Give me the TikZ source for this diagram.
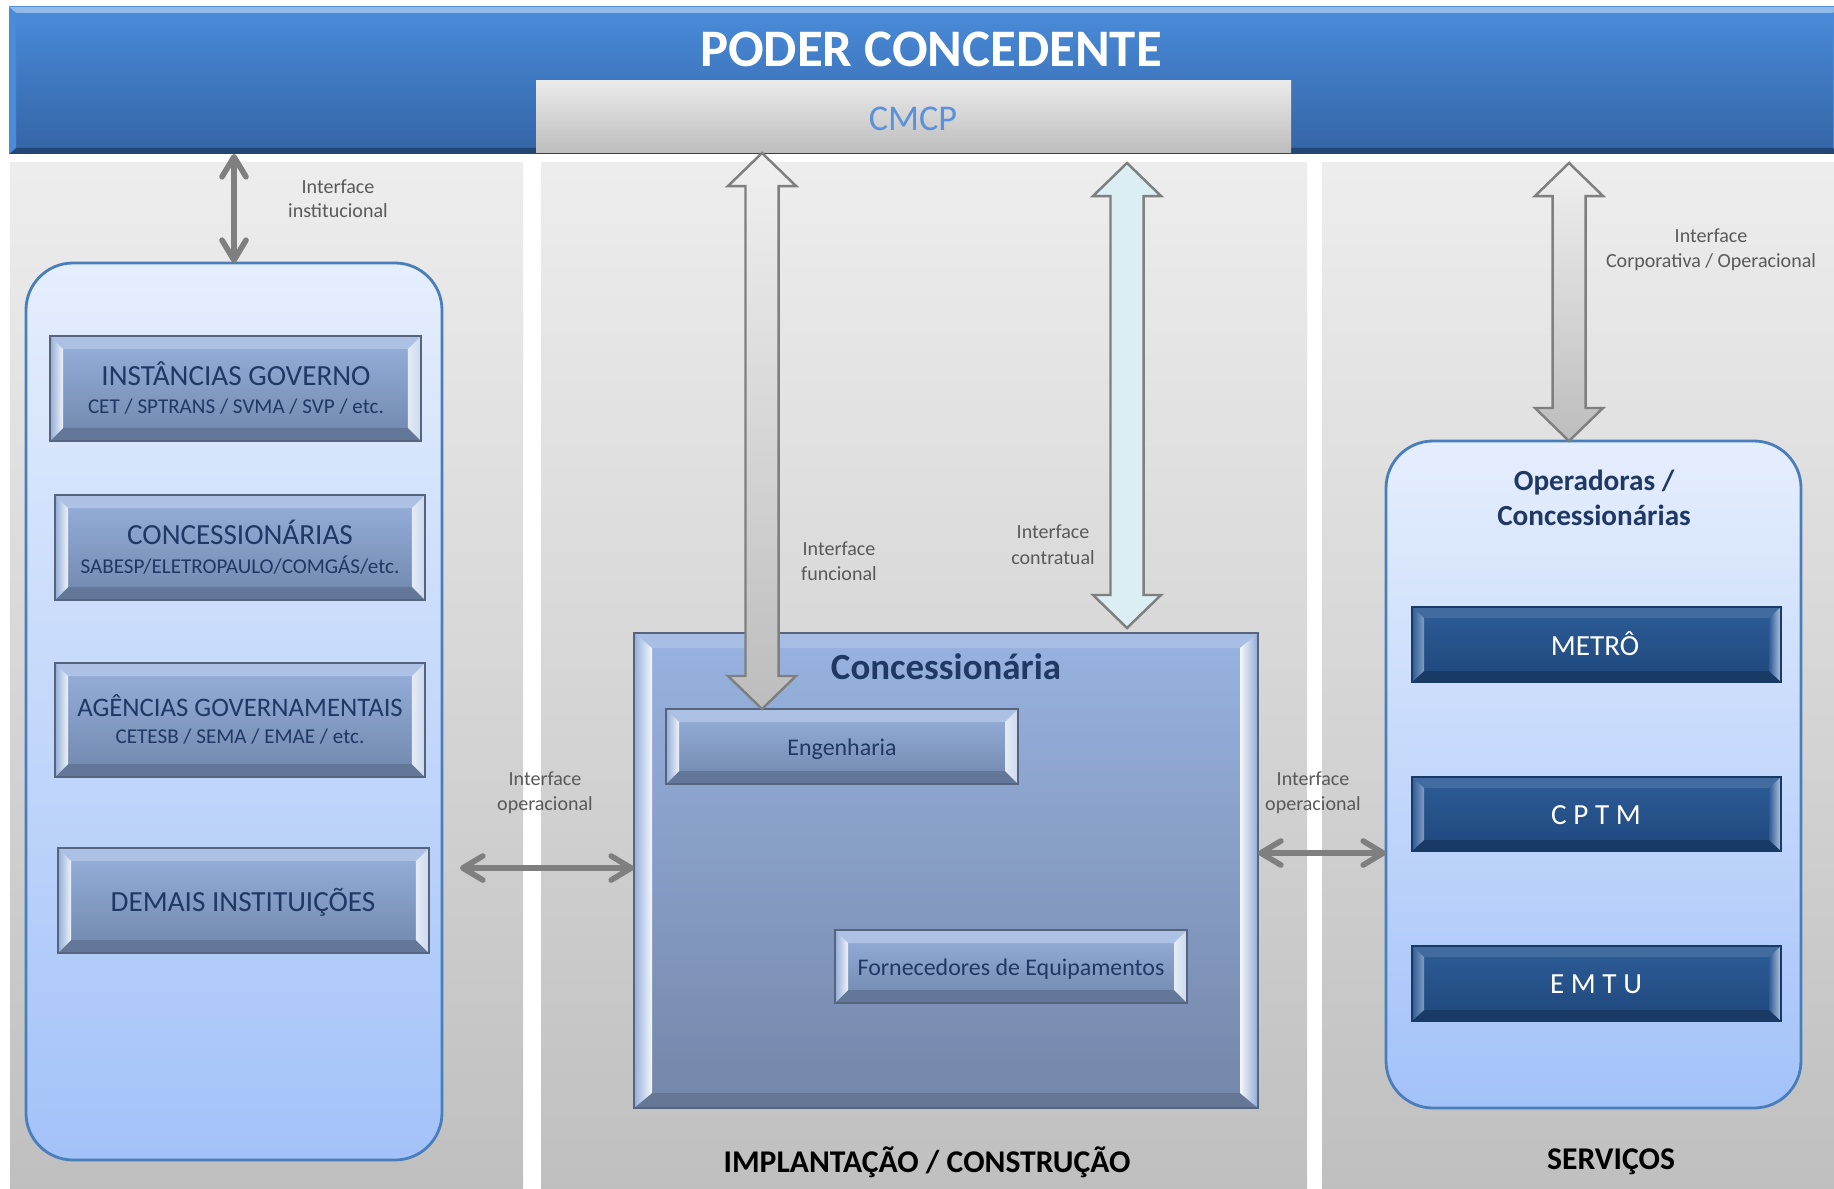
\documentclass[tikz,border=0pt]{standalone}
\usepackage{fontspec}
\setmainfont{Carlito}
\usetikzlibrary{arrows.meta,calc}
\definecolor{navy}{HTML}{1F3864}
\definecolor{lbl}{HTML}{595959}
\definecolor{arrowgrey}{HTML}{7F7F7F}
\definecolor{pborder}{HTML}{4A7EBB}
\definecolor{btop}{HTML}{97B1DC}
\definecolor{bbot}{HTML}{7087AD}
\definecolor{bborder}{HTML}{56657D}
\definecolor{dtop}{HTML}{2D5C96}
\definecolor{dbot}{HTML}{1F487E}
\definecolor{dborder}{HTML}{183A66}
\definecolor{ctop}{HTML}{98B3E0}
\definecolor{cbot}{HTML}{7486A9}
\definecolor{bantop}{HTML}{4A8CDB}
\definecolor{banbot}{HTML}{3464A5}
\definecolor{cmcptext}{HTML}{5B91DA}
\definecolor{cyanfill}{HTML}{DAEEF3}

% bevel painting inside a node: #1 side inset, #2 top/bottom inset,
% #3/#4 left band outer/inner, #5/#6 right band inner/outer, #7 top band, #8 bottom band
\newcommand\bevelpaint[8]{%
 \coordinate (bvsw) at (path picture bounding box.south west);
 \coordinate (bvse) at (path picture bounding box.south east);
 \coordinate (bvnw) at (path picture bounding box.north west);
 \coordinate (bvne) at (path picture bounding box.north east);
 \fill[#7] (bvnw) -- (bvne) -- ([shift={(-#1,-#2)}]bvne) -- ([shift={(#1,-#2)}]bvnw) -- cycle;
 \fill[#8] (bvsw) -- (bvse) -- ([shift={(-#1,#2)}]bvse) -- ([shift={(#1,#2)}]bvsw) -- cycle;
 \shade[left color=#3,right color=#4] (bvsw) -- (bvnw) -- ([shift={(#1,-#2)}]bvnw) -- ([shift={(#1,#2)}]bvsw) -- cycle;
 \shade[left color=#5,right color=#6] (bvse) -- (bvne) -- ([shift={(-#1,-#2)}]bvne) -- ([shift={(-#1,#2)}]bvse) -- cycle;
}
% box node from pixel corners: [style]{name}{x1}{y1}{x2}{y2}{text}
\newcommand\boxnode[7][]{\node[#1,minimum width={(#5-#3)*0.01cm},minimum height={(#6-#4)*0.01cm}] (#2) at ({(#3+#5)/2},{(#4+#6)/2}) {#7};}
% block double arrow between two points (top, bottom)
\newcommand\blockarrow[3]{%
 \draw[#3] let \p1=(#1), \p2=(#2) in
 (\x1,\y1) -- (\x1+0.34cm,\y1-0.33cm) -- (\x1+0.165cm,\y1-0.33cm) -- (\x1+0.165cm,\y2+0.33cm)
 -- (\x1+0.34cm,\y2+0.33cm) -- (\x1,\y2) -- (\x1-0.34cm,\y2+0.33cm) -- (\x1-0.165cm,\y2+0.33cm)
 -- (\x1-0.165cm,\y1-0.33cm) -- (\x1-0.34cm,\y1-0.33cm) -- cycle;}

\tikzset{
 boxbase/.style={inner sep=0pt,outer sep=0pt},
 colbg/.style={boxbase,top color=black!7,bottom color=black!25},
 banner/.style={boxbase,top color=bantop,bottom color=banbot,
   path picture={\bevelpaint{0.07cm}{0.06cm}{bantop}{bantop}{bantop}{bantop}{bantop!60!white}{banbot!70!black}}},
 cmcpbox/.style={boxbase,top color=black!8,bottom color=black!26},
 panel/.style={boxbase,draw=pborder,line width=0.8pt,rounded corners=0.47cm,top color={rgb,255:red,229;green,238;blue,253},bottom color={rgb,255:red,163;green,194;blue,249}},
 lbtn/.style={boxbase,draw=bborder,line width=0.7pt,top color=btop,bottom color=bbot,
   path picture={\bevelpaint{0.13cm}{0.13cm}{btop!90!bbot}{white!85!btop}{white!75!btop}{btop!50!white}{btop!80!white}{bbot!88!black}}},
 bigbox/.style={boxbase,draw=bborder,line width=0.8pt,top color=ctop,bottom color=cbot,
   path picture={\bevelpaint{0.18cm}{0.15cm}{ctop!90!cbot}{white!90!ctop}{white!90!ctop}{ctop!80!cbot}{ctop!85!white}{cbot!88!black}}},
 dbtn/.style={boxbase,draw=dborder,line width=0.7pt,top color=dtop,bottom color=dbot,
   path picture={\bevelpaint{0.12cm}{0.11cm}{dtop}{dtop!60!white}{dtop}{dtop!35!white}{dtop!90!white}{dbot!80!black}}},
 garrow/.style={draw=arrowgrey,line width=0.7pt,top color=black!6,bottom color=black!26},
 carrow/.style={draw=arrowgrey,line width=0.7pt,fill=cyanfill},
 thinarrow/.style={draw=arrowgrey,line width=1.6pt,{Straight Barb[length=2mm,width=2.4mm,round]}-{Straight Barb[length=2mm,width=2.4mm,round]}},
 lab/.style={text=lbl,font=\fontsize{5.7}{6.8}\selectfont,anchor=base,inner sep=0pt},
 tone/.style={text=navy,font=\fontsize{8.3}{10}\selectfont,anchor=base,inner sep=0pt},
 ttwo/.style={text=navy,font=\fontsize{6.0}{7.2}\selectfont,anchor=base,inner sep=0pt},
 tsmall/.style={text=navy,font=\fontsize{6.8}{8}\selectfont,anchor=base,inner sep=0pt},
 ttitle/.style={text=navy,font=\bfseries\fontsize{8.3}{10}\selectfont,anchor=base,inner sep=0pt},
 twhite/.style={text=white,font=\fontsize{8.3}{10}\selectfont,anchor=base,inner sep=0pt},
 tcol/.style={text=black,font=\bfseries\fontsize{9}{11}\selectfont,anchor=base,inner sep=0pt}
}

\begin{document}
\begin{tikzpicture}[x=0.01cm,y=-0.01cm]
\fill[white] (0,0) rectangle (1834,1188);
\useasboundingbox (0,0) rectangle (1834,1188);

% column backgrounds
\boxnode[colbg]{colL}{10}{163}{523}{1188}{}
\boxnode[colbg]{colM}{541}{163}{1307}{1188}{}
\boxnode[colbg]{colR}{1322}{163}{1834}{1188}{}

% top banner
\boxnode[banner]{banner}{9}{7}{1840}{154}{}
\boxnode[cmcpbox]{cmcp}{536}{81}{1291}{153}{}
\node[text=white,font=\bfseries\fontsize{15}{17}\selectfont,anchor=base,inner sep=0pt] (poder) at (931,67) {PODER CONCEDENTE};
\node[text=cmcptext,font=\fontsize{10.3}{12}\selectfont,anchor=base,inner sep=0pt] (cmcpt) at (913,130) {CMCP};

% panels
\boxnode[panel]{lpanel}{26}{263}{442}{1160}{}
\boxnode[panel]{rpanel}{1386}{441}{1801}{1108}{}

% left buttons
\boxnode[lbtn]{ig}{50}{336}{421}{441}{}
\node[tone] (igA) at (236,385) {INSTÂNCIAS GOVERNO};
\node[ttwo] (igB) at (236,413) {CET / SPTRANS / SVMA / SVP / etc.};
\boxnode[lbtn]{cs}{55}{495}{425}{600}{}
\node[tone] (csA) at (240,544) {CONCESSIONÁRIAS};
\node[ttwo] (csB) at (240,573) {SABESP/ELETROPAULO/COMGÁS/etc.};
\boxnode[lbtn]{ag}{55}{663}{425}{777}{}
\node[tone,font=\fontsize{7.6}{9}\selectfont] (agA) at (240,716) {AGÊNCIAS GOVERNAMENTAIS};
\node[ttwo] (agB) at (240,743) {CETESB / SEMA / EMAE / etc.};
\boxnode[lbtn]{dm}{58}{848}{429}{953}{}
\node[tone] (dmA) at (243,911) {DEMAIS INSTITUIÇÕES};

% concessionaria
\boxnode[bigbox]{conc}{634}{633}{1258}{1108}{}
\node[ttitle,font=\bfseries\fontsize{10.5}{12}\selectfont] (concT) at (946,679) {Concessionária};
\boxnode[lbtn]{eng}{666}{709}{1018}{784}{}
\node[tsmall] (engT) at (842,755) {Engenharia};
\boxnode[lbtn]{forn}{835}{930}{1187}{1003}{}
\node[tsmall] (fornT) at (1011,975) {Fornecedores de Equipamentos};

% right panel content
\node[ttitle] (opA) at (1594,490) {Operadoras /};
\node[ttitle] (opB) at (1594,525) {Concessionárias};
\boxnode[dbtn]{metro}{1412}{607}{1781}{682}{}
\node[twhite] (metroT) at (1595,655) {METRÔ};
\boxnode[dbtn]{cptm}{1412}{777}{1781}{851}{}
\node[twhite] (cptmT) at (1596,824) {C P T M};
\boxnode[dbtn]{emtu}{1412}{946}{1781}{1021}{}
\node[twhite] (emtuT) at (1596,993) {E M T U};

% column labels
\node[tcol] (implT) at (927,1172) {IMPLANTAÇÃO / CONSTRUÇÃO};
\node[tcol] (servT) at (1611,1169) {SERVIÇOS};

% block arrows
\coordinate (fx) at (762,0);
\coordinate (cx) at (1127,0);
\coordinate (sx) at (1569,0);
\blockarrow{fx |- cmcp.south}{fx |- eng.north}{garrow}
\blockarrow{cx |- colM.north}{$(cx |- conc.north)+(0,-5)$}{carrow}
\blockarrow{sx |- colR.north}{sx |- rpanel.north}{garrow}

% thin arrows
\draw[thinarrow] (lpanel.north |- banner.south) -- (lpanel.north);
\coordinate (lo) at (460,868);
\draw[thinarrow] (lo) -- (lo -| conc.west);
\coordinate (ro) at (1300,853);
\draw[thinarrow] (ro -| conc.east) -- (ro -| rpanel.west);

% interface labels
\node[lab] (l1a) at (338,193) {Interface};
\node[lab] (l1b) at (338,218) {institucional};
\node[lab] (l2a) at (839,555) {Interface};
\node[lab] (l2b) at (839,580) {funcional};
\node[lab] (l3a) at (1053,538) {Interface};
\node[lab] (l3b) at (1053,564) {contratual};
\node[lab] (l4a) at (1711,242) {Interface};
\node[lab] (l4b) at (1711,268) {Corporativa / Operacional};
\node[lab] (l5a) at (545,785) {Interface};
\node[lab] (l5b) at (545,810) {operacional};
\node[lab] (l6a) at (1313,785) {Interface};
\node[lab] (l6b) at (1313,810) {operacional};
\end{tikzpicture}
\end{document}
